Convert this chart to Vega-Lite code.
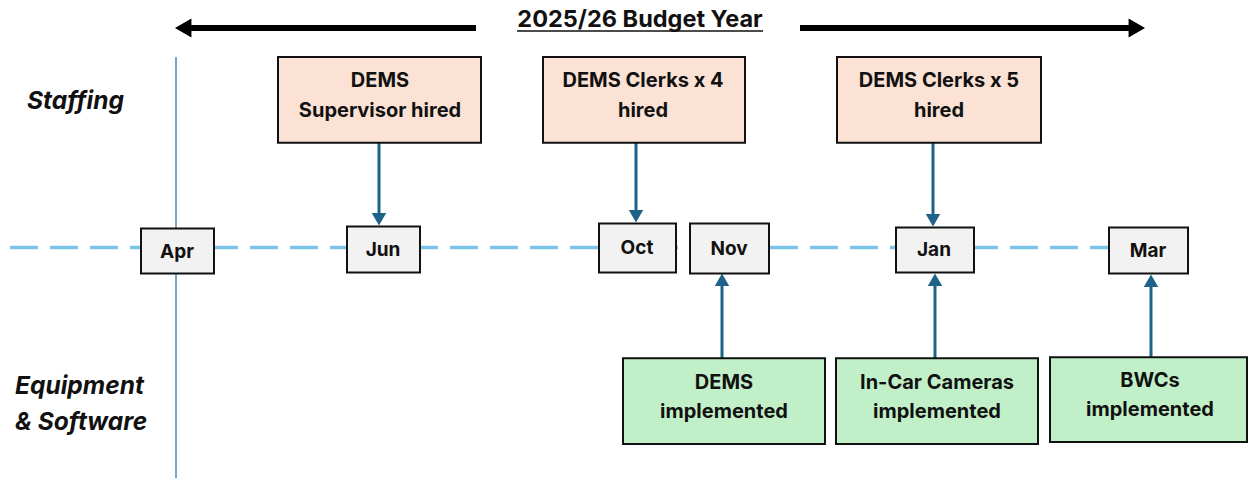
{
  "$schema": "https://vega.github.io/schema/vega-lite/v6.json",
  "width": 1248,
  "height": 479,
  "padding": 0,
  "autosize": {"type": "fit", "contains": "padding"},
  "background": "white",
  "config": {"view": {"stroke": null}, "font": "Inter"},
  "datasets": {
    "timeline": [{"x": 10, "x2": 1150, "y": 248}],
    "startline": [{"x": 176, "y": 57, "y2": 479}],
    "titleRow": [{"label": "2025/26 Budget Year", "x": 640, "y": 27, "ux": 517, "ux2": 763, "uy": 31}],
    "budgetLeft": [{"start": 476, "tip": 175, "y": 28}],
    "budgetRight": [{"start": 800, "tip": 1145, "y": 28}],
    "arrowsDown": [
      {"x": 379, "start": 143, "tip": 226},
      {"x": 636, "start": 143, "tip": 223},
      {"x": 933, "start": 143, "tip": 227}
    ],
    "arrowsUp": [
      {"x": 722, "start": 359, "tip": 274},
      {"x": 935, "start": 359, "tip": 274},
      {"x": 1151, "start": 358, "tip": 275}
    ],
    "months": [
      {"label": "Apr", "x": 141, "x2": 214, "y": 229, "y2": 274, "cx": 177, "ty": 259},
      {"label": "Jun", "x": 347, "x2": 420, "y": 227, "y2": 273, "cx": 383, "ty": 257},
      {"label": "Oct", "x": 599, "x2": 676, "y": 224, "y2": 273, "cx": 637, "ty": 255},
      {"label": "Nov", "x": 690, "x2": 769, "y": 224, "y2": 274, "cx": 729, "ty": 256},
      {"label": "Jan", "x": 896, "x2": 974, "y": 228, "y2": 273, "cx": 934, "ty": 257},
      {"label": "Mar", "x": 1109, "x2": 1188, "y": 228, "y2": 274, "cx": 1148, "ty": 258}
    ],
    "staffing": [
      {"label": "DEMS\nSupervisor hired", "x": 278, "x2": 481, "y": 57, "y2": 143, "cx": 380, "ty": 87},
      {"label": "DEMS Clerks x 4\nhired", "x": 543, "x2": 745, "y": 57, "y2": 143, "cx": 643, "ty": 87},
      {"label": "DEMS Clerks x 5\nhired", "x": 837, "x2": 1041, "y": 57, "y2": 143, "cx": 939, "ty": 87}
    ],
    "equipment": [
      {"label": "DEMS\nimplemented", "x": 623, "x2": 825, "y": 359, "y2": 445, "cx": 724, "ty": 390},
      {"label": "In-Car Cameras\nimplemented", "x": 836, "x2": 1038, "y": 359, "y2": 445, "cx": 937, "ty": 390},
      {"label": "BWCs\nimplemented", "x": 1050, "x2": 1247, "y": 358, "y2": 443, "cx": 1150, "ty": 388}
    ],
    "sideLabels": [
      {"label": "Staffing", "x": 27, "y": 109},
      {"label": "Equipment\n& Software", "x": 15, "y": 395}
    ]
  },
  "layer": [
    {
      "data": {"name": "timeline"},
      "mark": {"type": "rule", "color": "#7cc3e8", "strokeWidth": 3.5, "strokeDash": [28, 12]},
      "encoding": {
        "x": {"field": "x", "type": "quantitative", "scale": {"domain": [0, 1248], "nice": false, "zero": false}, "axis": null},
        "x2": {"field": "x2"},
        "y": {"field": "y", "type": "quantitative", "scale": {"domain": [0, 479], "reverse": true, "nice": false, "zero": false}, "axis": null}
      }
    },
    {
      "data": {"name": "startline"},
      "mark": {"type": "rule", "color": "#4d87b3", "strokeWidth": 1.5},
      "encoding": {
        "x": {"field": "x", "type": "quantitative", "axis": null},
        "y": {"field": "y", "type": "quantitative", "axis": null},
        "y2": {"field": "y2"}
      }
    },
    {
      "data": {"name": "budgetLeft"},
      "layer": [
        {
          "mark": {"type": "rule", "color": "black", "strokeWidth": 6, "x2Offset": 12},
          "encoding": {
            "x": {"field": "start", "type": "quantitative", "axis": null},
            "x2": {"field": "tip"},
            "y": {"field": "y", "type": "quantitative", "axis": null}
          }
        },
        {
          "mark": {"type": "point", "shape": "triangle-left", "filled": true, "color": "black", "opacity": 1, "size": 361, "xOffset": 8.2},
          "encoding": {
            "x": {"field": "tip", "type": "quantitative", "axis": null},
            "y": {"field": "y", "type": "quantitative", "axis": null}
          }
        }
      ]
    },
    {
      "data": {"name": "budgetRight"},
      "layer": [
        {
          "mark": {"type": "rule", "color": "black", "strokeWidth": 6, "x2Offset": -12},
          "encoding": {
            "x": {"field": "start", "type": "quantitative", "axis": null},
            "x2": {"field": "tip"},
            "y": {"field": "y", "type": "quantitative", "axis": null}
          }
        },
        {
          "mark": {"type": "point", "shape": "triangle-right", "filled": true, "color": "black", "opacity": 1, "size": 361, "xOffset": -8.2},
          "encoding": {
            "x": {"field": "tip", "type": "quantitative", "axis": null},
            "y": {"field": "y", "type": "quantitative", "axis": null}
          }
        }
      ]
    },
    {
      "data": {"name": "titleRow"},
      "layer": [
        {
          "mark": {"type": "text", "fontSize": 23.5, "fontWeight": "bold", "color": "#111111", "align": "center", "baseline": "alphabetic"},
          "encoding": {
            "x": {"field": "x", "type": "quantitative", "axis": null},
            "y": {"field": "y", "type": "quantitative", "axis": null},
            "text": {"field": "label"}
          }
        },
        {
          "mark": {"type": "rule", "color": "#111111", "strokeWidth": 1.5},
          "encoding": {
            "x": {"field": "ux", "type": "quantitative", "axis": null},
            "x2": {"field": "ux2"},
            "y": {"field": "uy", "type": "quantitative", "axis": null}
          }
        }
      ]
    },
    {
      "data": {"name": "arrowsDown"},
      "layer": [
        {
          "mark": {"type": "rule", "color": "#1d6389", "strokeWidth": 3, "y2Offset": -8},
          "encoding": {
            "x": {"field": "x", "type": "quantitative", "axis": null},
            "y": {"field": "start", "type": "quantitative", "axis": null},
            "y2": {"field": "tip"}
          }
        },
        {
          "mark": {"type": "point", "shape": "triangle-down", "filled": true, "color": "#1d6389", "opacity": 1, "size": 210, "yOffset": -6.3},
          "encoding": {
            "x": {"field": "x", "type": "quantitative", "axis": null},
            "y": {"field": "tip", "type": "quantitative", "axis": null}
          }
        }
      ]
    },
    {
      "data": {"name": "arrowsUp"},
      "layer": [
        {
          "mark": {"type": "rule", "color": "#1d6389", "strokeWidth": 3, "y2Offset": 8},
          "encoding": {
            "x": {"field": "x", "type": "quantitative", "axis": null},
            "y": {"field": "start", "type": "quantitative", "axis": null},
            "y2": {"field": "tip"}
          }
        },
        {
          "mark": {"type": "point", "shape": "triangle-up", "filled": true, "color": "#1d6389", "opacity": 1, "size": 210, "yOffset": 6.3},
          "encoding": {
            "x": {"field": "x", "type": "quantitative", "axis": null},
            "y": {"field": "tip", "type": "quantitative", "axis": null}
          }
        }
      ]
    },
    {
      "data": {"name": "months"},
      "layer": [
        {
          "mark": {"type": "rect", "fill": "#f2f2f2", "stroke": "#111111", "strokeWidth": 2},
          "encoding": {
            "x": {"field": "x", "type": "quantitative", "axis": null},
            "x2": {"field": "x2"},
            "y": {"field": "y", "type": "quantitative", "axis": null},
            "y2": {"field": "y2"}
          }
        },
        {
          "mark": {"type": "text", "fontSize": 19, "fontWeight": "bold", "color": "#111111", "align": "center", "baseline": "alphabetic"},
          "encoding": {
            "x": {"field": "cx", "type": "quantitative", "axis": null},
            "y": {"field": "ty", "type": "quantitative", "axis": null},
            "text": {"field": "label"}
          }
        }
      ]
    },
    {
      "data": {"name": "staffing"},
      "layer": [
        {
          "mark": {"type": "rect", "fill": "#fbe2d5", "stroke": "#111111", "strokeWidth": 2},
          "encoding": {
            "x": {"field": "x", "type": "quantitative", "axis": null},
            "x2": {"field": "x2"},
            "y": {"field": "y", "type": "quantitative", "axis": null},
            "y2": {"field": "y2"}
          }
        },
        {
          "mark": {"type": "text", "fontSize": 20, "fontWeight": "bold", "color": "#111111", "align": "center", "baseline": "alphabetic", "lineBreak": "\n", "lineHeight": 30},
          "encoding": {
            "x": {"field": "cx", "type": "quantitative", "axis": null},
            "y": {"field": "ty", "type": "quantitative", "axis": null},
            "text": {"field": "label"}
          }
        }
      ]
    },
    {
      "data": {"name": "equipment"},
      "layer": [
        {
          "mark": {"type": "rect", "fill": "#c1f0c8", "stroke": "#111111", "strokeWidth": 2},
          "encoding": {
            "x": {"field": "x", "type": "quantitative", "axis": null},
            "x2": {"field": "x2"},
            "y": {"field": "y", "type": "quantitative", "axis": null},
            "y2": {"field": "y2"}
          }
        },
        {
          "mark": {"type": "text", "fontSize": 20, "fontWeight": "bold", "color": "#111111", "align": "center", "baseline": "alphabetic", "lineBreak": "\n", "lineHeight": 29},
          "encoding": {
            "x": {"field": "cx", "type": "quantitative", "axis": null},
            "y": {"field": "ty", "type": "quantitative", "axis": null},
            "text": {"field": "label"}
          }
        }
      ]
    },
    {
      "data": {"name": "sideLabels"},
      "mark": {"type": "text", "fontSize": 24.5, "fontWeight": "bold", "fontStyle": "italic", "color": "#111111", "align": "left", "baseline": "alphabetic", "lineBreak": "\n", "lineHeight": 36},
      "encoding": {
        "x": {"field": "x", "type": "quantitative", "axis": null},
        "y": {"field": "y", "type": "quantitative", "axis": null},
        "text": {"field": "label"}
      }
    }
  ]
}
